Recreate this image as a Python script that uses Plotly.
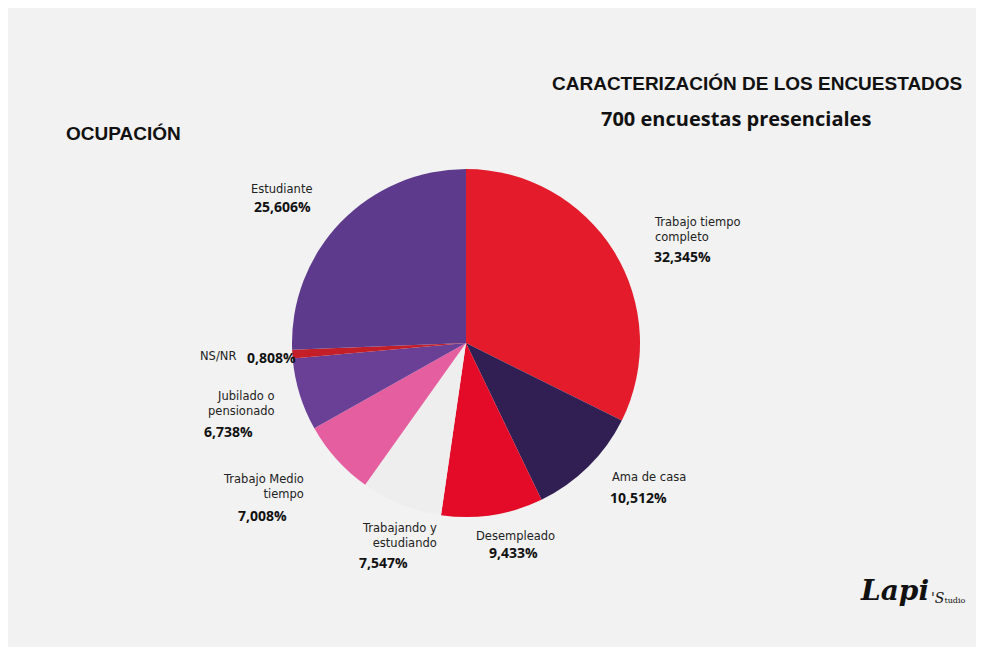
import plotly.graph_objects as go

categories = ["Trabajo tiempo completo", "Ama de casa", "Desempleado", "Trabajando y estudiando",
              "Trabajo Medio tiempo", "Jubilado o pensionado", "NS/NR", "Estudiante"]
label_lines = ["Trabajo tiempo<br>completo", "Ama de casa", "Desempleado", "Trabajando y<br>estudiando",
               "Trabajo Medio<br>tiempo", "Jubilado o<br>pensionado", "NS/NR", "Estudiante"]
values = [32.345, 10.512, 9.433, 7.547, 7.008, 6.738, 0.808, 25.606]
pct_labels = ["32,345%", "10,512%", "9,433%", "7,547%", "7,008%", "6,738%", "0,808%", "25,606%"]
colors = ["#E31B2A", "#311E52", "#E30B27", "#EEEEEE", "#E55EA0", "#6A3F96", "#C41E28", "#5E3A8D"]

OFF = 8
W, H = 984 - 2 * OFF, 655 - 2 * OFF
def X(p): return (p - OFF) / W
def Y(p): return 1 - (p - OFF) / H

fig = go.Figure(go.Pie(
    labels=categories, values=values, sort=False, direction="clockwise", rotation=0,
    marker=dict(colors=colors, line=dict(width=0)), textinfo="none", hoverinfo="label+percent",
    domain=dict(x=[X(292), X(640)], y=[Y(517), Y(169)]), showlegend=False))

# (label x, label y center, pct x, pct y, label anchor) in reference pixels
label_pos = [
    (652, 229, 652, 256, "left"),
    (610, 477, 608, 497, "left"),
    (474, 536, 487, 552, "left"),
    (439, 535, 357, 562, "right"),
    (306, 486, 236, 515, "right"),
    (277, 404, 202, 431, "right"),
    (238, 356, 245, 357, "right"),
    (314, 189, 252, 206, "right"),
]
lab_font = dict(family="DejaVu Sans", size=11.5, color="#222")
pct_font = dict(family="Open Sans", size=14, color="#111")
ann = []
for i, (lx, ly, px, py, anc) in enumerate(label_pos):
    ann.append(dict(x=X(lx), y=Y(ly), xref="paper", yref="paper", showarrow=False,
                    xanchor=anc, yanchor="middle", align=anc, text=label_lines[i], font=lab_font))
    ann.append(dict(x=X(px), y=Y(py), xref="paper", yref="paper", showarrow=False,
                    xanchor="left", yanchor="middle", text="<b>" + pct_labels[i] + "</b>", font=pct_font))

def txt(x, y, t, font, xa="left"):
    return dict(x=X(x), y=Y(y), xref="paper", yref="paper", showarrow=False,
                xanchor=xa, yanchor="middle", text=t, font=font)

ann += [
    txt(964, 84, "<b>CARACTERIZACIÓN DE LOS ENCUESTADOS</b>", dict(family="Liberation Sans", size=19, color="#111"), "right"),
    txt(736, 118, "<b>700 encuestas presenciales</b>", dict(family="Open Sans", size=20, color="#111"), "center"),
    txt(64, 134, "<b>OCUPACIÓN</b>", dict(family="Liberation Sans", size=19, color="#111")),
    txt(858, 590, "<b><i>Lapi</i></b>", dict(family="DejaVu Serif", size=28, color="#111")),
    txt(968, 598, "<i>'S</i><span style='font-size:8px'>tudio</span>", dict(family="DejaVu Serif", size=14, color="#111"), "right"),
]

fig.update_layout(width=W, height=H, margin=dict(l=0, r=0, t=0, b=0),
                  paper_bgcolor="#F2F2F2", plot_bgcolor="#F2F2F2", annotations=ann)
fig.write_html("out.html")
